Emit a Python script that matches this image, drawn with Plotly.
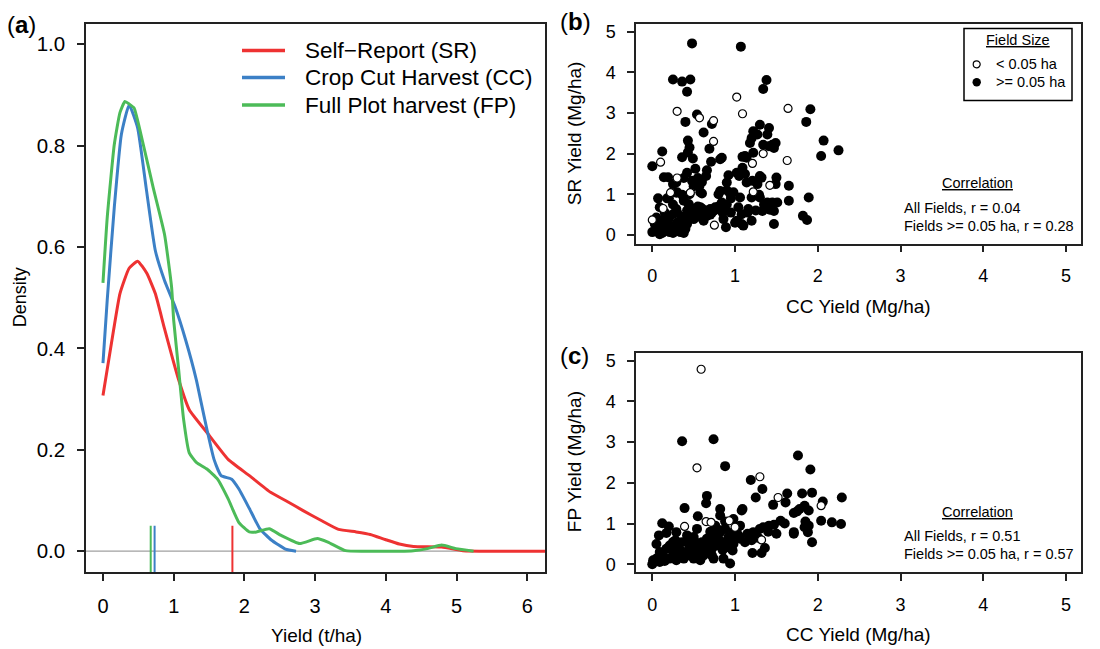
import plotly.graph_objects as go

W, H = 1100, 649
FONT = "Liberation Sans, Arial, Helvetica, sans-serif"

# ---------------- Panel (a): density curves ----------------
sr_x = [0, 0.15, 0.24, 0.37, 0.49, 0.62, 0.74, 0.87, 1.07, 1.22, 1.47, 1.77, 2.07, 2.37,
        2.58, 2.83, 3.08, 3.33, 3.58, 3.78, 3.99, 4.19, 4.39, 4.79, 5.09, 5.5, 6.25]
sr_y = [0.307, 0.436, 0.508, 0.558, 0.572, 0.548, 0.508, 0.439, 0.338, 0.279, 0.234, 0.181,
        0.149, 0.116, 0.100, 0.080, 0.061, 0.043, 0.038, 0.033, 0.023, 0.014, 0.009, 0.008,
        0.001, 0.0, 0.0]

cc_x = [0, 0.06, 0.16, 0.26, 0.37, 0.49, 0.61, 0.74, 0.87, 1.02, 1.17, 1.32, 1.39, 1.47,
        1.57, 1.67, 1.82, 1.92, 2.07, 2.22, 2.38, 2.58, 2.73]
cc_y = [0.371, 0.495, 0.678, 0.822, 0.880, 0.835, 0.717, 0.593, 0.534, 0.482, 0.416, 0.338,
        0.292, 0.240, 0.181, 0.149, 0.142, 0.123, 0.084, 0.044, 0.022, 0.004, 0.0]

fp_x = [0, 0.06, 0.16, 0.24, 0.31, 0.37, 0.44, 0.56, 0.71, 0.87, 0.97, 1.0, 1.07, 1.14,
        1.22, 1.32, 1.47, 1.62, 1.77, 1.92, 2.07, 2.17, 2.35, 2.52, 2.78, 3.03, 3.18, 3.43,
        3.8, 4.2, 4.39, 4.59, 4.79, 4.99, 5.24]
fp_y = [0.529, 0.658, 0.802, 0.865, 0.887, 0.882, 0.874, 0.808, 0.717, 0.625, 0.521, 0.455,
        0.358, 0.260, 0.194, 0.175, 0.162, 0.142, 0.103, 0.057, 0.038, 0.038, 0.044, 0.031,
        0.015, 0.025, 0.018, 0.001, 0.0, 0.0, 0.001, 0.005, 0.012, 0.005, 0.0]

# vertical marks (per-method mean yield)
mark_x = {"SR": 1.83, "CC": 0.73, "FP": 0.675}
mark_top = 0.05

series_names = ["Self\u2212Report (SR)", "Crop Cut Harvest (CC)", "Full Plot harvest (FP)"]
series_keys = ["SR", "CC", "FP"]
colors = {"SR": "#EE3232", "CC": "#3C80C6", "FP": "#4CBB58"}

# ---------------- Panel (b): SR vs CC ----------------
b_open = [(0.00, 0.37), (0.10, 1.79), (0.30, 3.04), (0.30, 1.40), (0.22, 1.04), (0.46, 1.04),
          (0.57, 2.88), (0.74, 2.81), (0.74, 2.30), (0.75, 0.24), (1.02, 3.39), (1.09, 2.98),
          (1.21, 1.76), (1.22, 1.06), (1.34, 2.00), (1.42, 1.22), (1.64, 3.11), (1.63, 1.83),
          (0.13, 0.65)]
b_filled = [(0.48, 4.71), (1.07, 4.63), (0.25, 3.82), (0.36, 3.77), (0.46, 3.82), (0.42, 3.52),
            (1.38, 3.81), (1.34, 3.59), (0.54, 2.96), (0.40, 2.78), (0.62, 2.52), (0.72, 2.73),
            (0.43, 2.32), (0.43, 2.03), (0.36, 1.91), (0.49, 1.88), (0.12, 2.05), (0.00, 1.69),
            (0.69, 2.12), (0.82, 1.86), (0.84, 1.90), (0.71, 1.80), (0.66, 1.59), (0.65, 1.45),
            (0.52, 1.63), (0.42, 1.53), (0.48, 1.33), (0.57, 1.21), (0.60, 1.02), (0.29, 1.29),
            (0.14, 1.42), (0.19, 1.42), (0.07, 0.90), (0.18, 0.90), (0.29, 1.04), (0.36, 0.99),
            (0.38, 0.84), (0.44, 0.76), (0.58, 0.68), (0.29, 0.64), (0.25, 0.51), (0.09, 0.68),
            (0.05, 0.43), (0.13, 0.35), (0.03, 0.27), (0.09, 0.19), (0.17, 0.11), (0.34, 0.07),
            (0.00, 0.07), (0.09, 0.02), (0.21, 0.07), (0.27, 0.19), (0.42, 0.27), (0.50, 0.39),
            (0.54, 0.51), (0.66, 0.47), (0.72, 0.55), (0.76, 0.68), (0.62, 0.35), (0.70, 0.64),
            (0.88, 0.64), (0.84, 0.80), (0.82, 1.08), (0.94, 1.02), (0.92, 1.47), (0.90, 1.29),
            (1.02, 1.53), (1.09, 1.65), (1.12, 1.94), (1.09, 1.92), (1.14, 1.90), (1.18, 2.26),
            (1.20, 2.38), (1.22, 2.55), (1.27, 2.47), (1.30, 2.71), (1.39, 2.47), (1.41, 2.63),
            (1.41, 2.18), (1.45, 2.22), (1.49, 2.26), (1.47, 2.14), (1.34, 2.22), (1.22, 2.02),
            (1.32, 1.41), (1.21, 1.33), (1.27, 1.25), (1.14, 1.29), (1.06, 0.92), (1.20, 0.92),
            (1.29, 0.99), (1.30, 0.92), (1.39, 0.80), (1.45, 0.80), (1.51, 0.80), (1.49, 1.25),
            (1.50, 1.41), (1.65, 1.21), (1.65, 0.84), (1.47, 0.59), (1.33, 0.59), (1.16, 0.64),
            (1.04, 0.68), (1.08, 0.51), (1.02, 0.35), (1.08, 0.27), (1.10, 0.23), (1.20, 0.35),
            (1.47, 0.27), (0.86, 0.39), (0.89, 0.19), (1.89, 0.92), (1.82, 0.47), (1.87, 0.37),
            (1.86, 2.78), (1.91, 3.09), (2.07, 2.32), (2.04, 1.94), (2.25, 2.08),
            (0.05, 0.15), (0.12, 0.05), (0.20, 0.25), (0.25, 0.05), (0.30, 0.30), (0.35, 0.45),
            (0.40, 0.15), (0.45, 0.55), (0.50, 0.60), (0.55, 0.45), (0.60, 0.55), (0.65, 0.60),
            (0.70, 0.50), (0.75, 0.60), (0.80, 0.70), (0.85, 0.55), (0.15, 0.55), (0.20, 0.40),
            (0.10, 0.30), (0.35, 0.20), (0.40, 0.35), (0.55, 0.70), (0.25, 0.75), (0.45, 0.70),
            (0.30, 0.55), (0.15, 0.15), (0.38, 0.05), (0.42, 0.60), (0.48, 0.50), (0.60, 0.65),
            (0.95, 0.55), (1.00, 0.30), (0.90, 0.75), (0.98, 1.05), (1.15, 0.55), (1.25, 0.60),
            (1.35, 0.75), (1.42, 0.62), (1.30, 1.45), (1.12, 1.50), (1.05, 1.45), (0.90, 1.10),
            (0.95, 0.90), (0.80, 1.00), (0.55, 1.40), (0.60, 1.30), (0.50, 1.20), (0.45, 1.00),
            (0.38, 1.40), (0.45, 2.15), (0.58, 1.05), (0.30, 1.05), (0.25, 1.25), (0.20, 0.90)]

# ---------------- Panel (c): FP vs CC ----------------
c_open = [(0.59, 4.79), (0.54, 2.37), (1.30, 2.15), (1.52, 1.64), (2.04, 1.44), (0.39, 0.93),
          (0.65, 1.05), (0.71, 1.03), (0.93, 1.07), (1.00, 0.91), (1.32, 0.60)]
c_filled = [(0.36, 3.02), (0.74, 3.07), (0.88, 2.41), (1.76, 2.67), (1.91, 2.33), (1.19, 2.07),
            (1.33, 1.85), (1.25, 1.64), (1.63, 1.74), (1.61, 1.52), (1.81, 1.74), (1.93, 1.76),
            (2.06, 1.54), (2.29, 1.64), (1.46, 1.46), (1.71, 1.26), (1.78, 1.36), (1.84, 1.44),
            (1.89, 1.32), (1.08, 1.32), (1.09, 1.36), (0.82, 1.36), (0.82, 1.20), (0.66, 1.68),
            (0.65, 1.50), (0.39, 1.38), (0.55, 1.18), (0.12, 1.01), (0.20, 0.93), (0.08, 0.71),
            (0.17, 0.77), (0.05, 0.50), (0.21, 0.46), (0.28, 0.59), (0.36, 0.54), (0.44, 0.50),
            (0.54, 0.87), (0.60, 0.54), (0.66, 0.63), (0.74, 0.71), (0.78, 0.87), (0.82, 0.79),
            (0.88, 0.87), (0.92, 0.67), (0.98, 0.79), (1.04, 0.71), (0.98, 1.11), (1.06, 0.95),
            (1.12, 0.54), (1.20, 0.59), (1.22, 0.79), (1.30, 0.87), (1.34, 0.91), (1.41, 0.95),
            (1.47, 0.97), (1.55, 1.07), (1.50, 0.75), (1.71, 0.79), (1.71, 0.75), (1.84, 0.91),
            (1.89, 0.95), (1.88, 0.79), (1.93, 0.54), (2.04, 1.07), (2.17, 1.03), (2.28, 0.99),
            (1.21, 0.28), (1.32, 0.28), (1.36, 0.40), (0.97, 0.34), (0.86, 0.14), (0.94, 0.02),
            (0.74, 0.14), (0.72, 0.22), (0.00, 0.00), (0.05, 0.14), (0.09, 0.06), (0.13, 0.22),
            (0.21, 0.14), (0.29, 0.10), (0.38, 0.14), (0.44, 0.22), (0.50, 0.14), (0.58, 0.10),
            (0.62, 0.22), (0.48, 0.34), (0.34, 0.34), (0.25, 0.30), (0.17, 0.38), (0.66, 0.38),
            (0.78, 0.46), (0.86, 0.54), (0.90, 0.42), (1.06, 0.63), (0.98, 0.50), (0.42, 0.71),
            (0.50, 0.67), (0.29, 0.79), (0.56, 0.46), (0.72, 0.38), (0.09, 0.30), (0.01, 0.10),
            (0.30, 0.45), (0.40, 0.30), (0.52, 0.55), (0.64, 0.48), (0.70, 0.60), (0.80, 0.62),
            (0.85, 0.35), (0.60, 0.35), (0.33, 0.20), (0.15, 0.08), (0.25, 0.55), (0.45, 0.60),
            (0.95, 0.60), (1.02, 0.85), (0.88, 1.05), (0.76, 0.95), (1.15, 0.75), (1.28, 0.65),
            (1.40, 0.80), (1.60, 1.00), (1.75, 1.30), (1.85, 1.05), (0.70, 0.80), (0.55, 0.30)]

# ---------------- helpers ----------------
def px(x):
    return x / W

def py(y):
    return 1 - y / H

fig = go.Figure()

# Panel (a) curves
curve_data = {"SR": (sr_x, sr_y), "CC": (cc_x, cc_y), "FP": (fp_x, fp_y)}
for key, name in zip(series_keys, series_names):
    xs, ys = curve_data[key]
    fig.add_trace(go.Scatter(x=xs, y=ys, mode="lines", name=name,
                             line=dict(color=colors[key], width=3, shape="spline", smoothing=0.45),
                             xaxis="x", yaxis="y", showlegend=False))
for key in series_keys:
    fig.add_trace(go.Scatter(x=[mark_x[key], mark_x[key]], y=[-0.05, mark_top], mode="lines",
                             line=dict(color=colors[key], width=2), xaxis="x", yaxis="y",
                             showlegend=False))

def add_scatter(pts, axis_x, axis_y, filled):
    xs = [p[0] for p in pts]
    ys = [p[1] for p in pts]
    if filled:
        m = dict(size=10, color="black", line=dict(width=0))
    else:
        m = dict(size=8, color="white", line=dict(color="black", width=1.2))
    fig.add_trace(go.Scatter(x=xs, y=ys, mode="markers", marker=m, xaxis=axis_x, yaxis=axis_y,
                             showlegend=False, cliponaxis=False))

add_scatter(b_filled, "x2", "y2", True)
add_scatter(b_open, "x2", "y2", False)
add_scatter(c_filled, "x3", "y3", True)
add_scatter(c_open, "x3", "y3", False)

# Domains (pixel-based)
a_x = [px(86), px(545)]
a_y = [py(574), py(22)]
b_x = [px(636), px(1081)]
b_y = [py(243), py(22)]
c_y = [py(574), py(352.7)]

def axis_style(size):
    return dict(showgrid=False, zeroline=False, showline=True, mirror=True,
                linecolor="#222222", linewidth=1.5, ticks="outside", ticklen=7,
                tickwidth=1.5, tickcolor="#222222", ticklabelstandoff=8,
                tickfont=dict(family=FONT, size=size, color="black"))

fig.update_layout(
    width=W, height=H, margin=dict(l=0, r=0, t=0, b=0),
    paper_bgcolor="white", plot_bgcolor="white", showlegend=False,
    font=dict(family=FONT, color="black"),
    xaxis=dict(domain=a_x, anchor="y", range=[-0.24, 6.25], tickvals=[0, 1, 2, 3, 4, 5, 6],
               **axis_style(20)),
    yaxis=dict(domain=a_y, anchor="x", range=[-0.042, 1.04], tickvals=[0, 0.2, 0.4, 0.6, 0.8, 1.0],
               tickformat=".1f", **axis_style(20.5)),
    xaxis2=dict(domain=b_x, anchor="y2", range=[-0.197, 5.18], tickvals=[0, 1, 2, 3, 4, 5],
                **axis_style(18)),
    yaxis2=dict(domain=b_y, anchor="x2", range=[-0.21, 5.19], tickvals=[0, 1, 2, 3, 4, 5],
                **axis_style(18)),
    xaxis3=dict(domain=b_x, anchor="y3", range=[-0.197, 5.18], tickvals=[0, 1, 2, 3, 4, 5],
                **axis_style(18)),
    yaxis3=dict(domain=c_y, anchor="x3", range=[-0.2, 5.2], tickvals=[0, 1, 2, 3, 4, 5],
                **axis_style(18)),
)

# zero reference line in panel (a)
fig.add_shape(type="line", xref="x domain", yref="y", x0=0, x1=1, y0=0, y1=0,
              line=dict(color="#A0A0A0", width=1.2), layer="below")

shapes = []
annotations = []

def ann(text, x, y, size, xanchor="center", yanchor="middle", textangle=0):
    annotations.append(dict(text=text, x=px(x), y=py(y), xref="paper", yref="paper",
                            xanchor=xanchor, yanchor=yanchor, showarrow=False, textangle=textangle,
                            font=dict(family=FONT, size=size, color="black")))

# legend of panel (a)
leg_y = [48.7, 76, 103.7]
for key, name, yy in zip(series_keys, series_names, leg_y):
    shapes.append(dict(type="line", xref="paper", yref="paper", x0=px(242), x1=px(285),
                       y0=py(yy), y1=py(yy), line=dict(color=colors[key], width=3.5)))
    ann(name, 303, yy, 22.5, xanchor="left")

# panel labels
ann("(<b>a</b>)", 5, 23, 24, xanchor="left")
ann("(<b>b</b>)", 558, 20, 24, xanchor="left")
ann("(<b>c</b>)", 558, 356, 24, xanchor="left")

# axis titles
ann("Density", 20, 297, 18, textangle=-90)
ann("Yield (t/ha)", 316, 637, 19)
ann("SR Yield (Mg/ha)", 574, 132, 19, textangle=-90)
ann("CC Yield (Mg/ha)", 858, 306, 19)
ann("FP Yield (Mg/ha)", 574, 463, 19, textangle=-90)
ann("CC Yield (Mg/ha)", 858, 636, 19)

# field size legend in (b)
shapes.append(dict(type="rect", xref="paper", yref="paper", x0=px(964), x1=px(1072),
                   y0=py(99), y1=py(26.7), line=dict(color="black", width=1.5),
                   fillcolor="white"))
ann("<u>Field Size</u>", 1017.7, 38.5, 14.5)
ann("< 0.05 ha", 994, 62.7, 14.5, xanchor="left")
ann(">= 0.05 ha", 994, 80.7, 14.5, xanchor="left")
r_open, r_fill = 3.5, 4.2
shapes.append(dict(type="circle", xref="paper", yref="paper",
                   x0=px(976.7 - r_open), x1=px(976.7 + r_open),
                   y0=py(62.7 + r_open), y1=py(62.7 - r_open),
                   line=dict(color="black", width=1.2), fillcolor="white"))
shapes.append(dict(type="circle", xref="paper", yref="paper",
                   x0=px(976.7 - r_fill), x1=px(976.7 + r_fill),
                   y0=py(80.7 + r_fill), y1=py(80.7 - r_fill),
                   line=dict(color="black", width=0), fillcolor="black"))

# correlation texts
corr_b = ["All Fields, r = 0.04", "Fields >= 0.05 ha, r = 0.28"]
corr_c = ["All Fields, r = 0.51", "Fields >= 0.05 ha, r = 0.57"]
ann("<u>Correlation</u>", 977.7, 181.7, 14.5)
ann(corr_b[0], 901.7, 207, 14.5, xanchor="left")
ann(corr_b[1], 901.7, 225, 14.5, xanchor="left")
ann("<u>Correlation</u>", 977.7, 513.3, 14.5)
ann(corr_c[0], 901.7, 537.7, 14.5, xanchor="left")
ann(corr_c[1], 901.7, 555.7, 14.5, xanchor="left")

for s in shapes:
    fig.add_shape(**s)
fig.update_layout(annotations=annotations)

fig.write_html("out.html", config={"displayModeBar": False},
               post_script="document.body.style.margin='0';document.body.style.padding='0';"
                           "document.body.style.overflow='hidden';")
